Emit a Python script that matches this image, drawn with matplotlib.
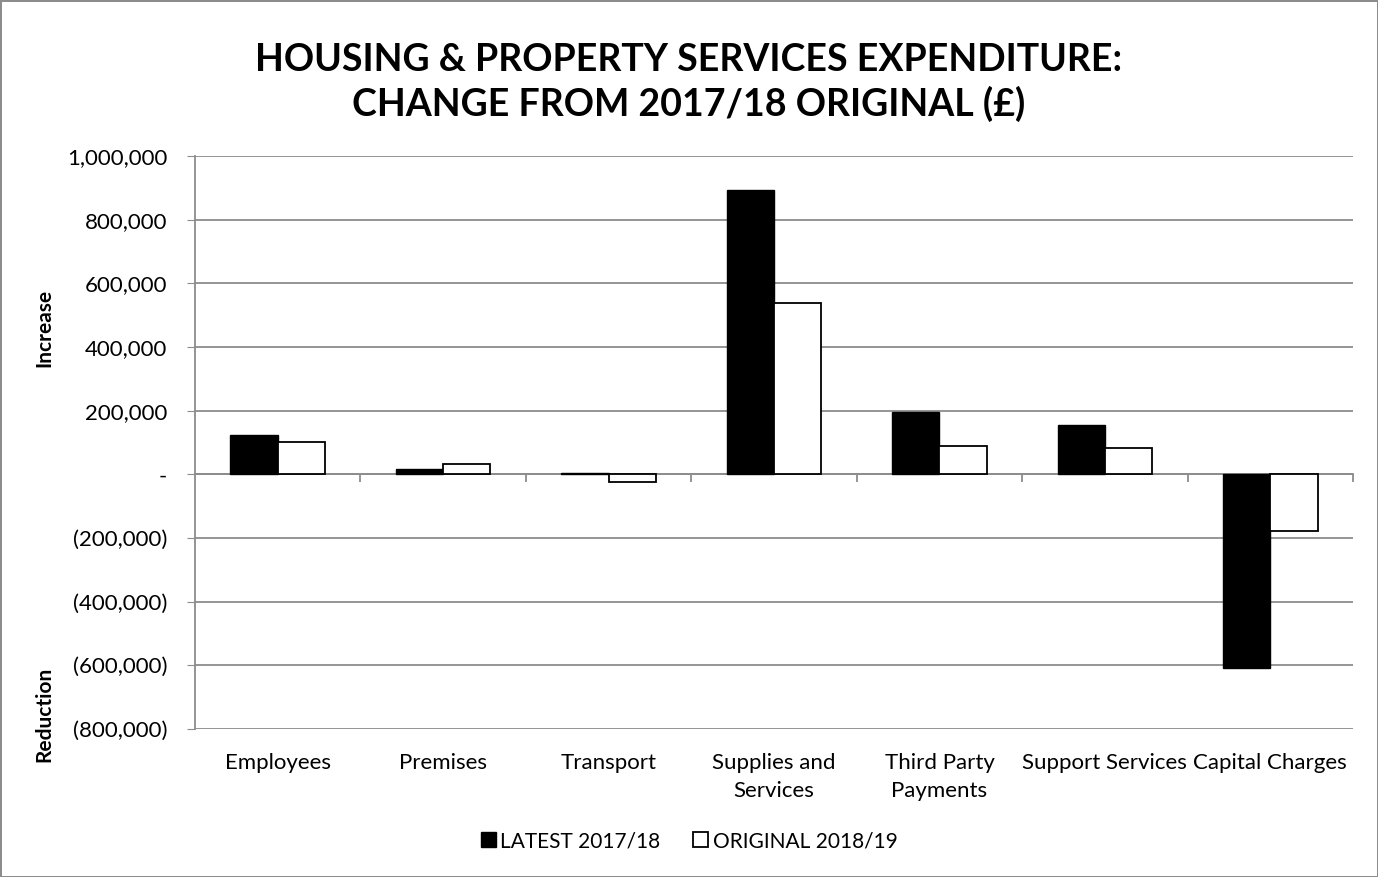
import numpy as np
import matplotlib
matplotlib.use("Agg")
import matplotlib.pyplot as plt
from matplotlib.ticker import FuncFormatter, FixedLocator

# -----------------------------
# Data
# -----------------------------
categories = ["Employees", "Premises", "Transport", "Supplies and\nServices",
              "Third Party\nPayments", "Support Services", "Capital Charges"]
latest_2017_18 = [123000, 18000, 4000, 893000, 195000, 154000, -610000]
original_2018_19 = [100000, 31000, -24000, 538000, 88000, 82000, -179000]
series_names = ["LATEST 2017/18", "ORIGINAL 2018/19"]

plt.rcParams["font.family"] = ["Lato", "DejaVu Sans"]
grid_col = "#8c8c8c"

fig = plt.figure(figsize=(13.78, 8.77), dpi=100)
fig.patch.set_edgecolor("#8c8c8c")
fig.patch.set_linewidth(2)
ax = fig.add_axes([0.1415, 0.1688, 0.8404, 0.6533])

x = np.arange(len(categories))
w = 0.286
ax.bar(x - w / 2, latest_2017_18, w, color="black", edgecolor="black",
       linewidth=1, label=series_names[0], zorder=3)
ax.bar(x + w / 2, original_2018_19, w, color="white", edgecolor="black",
       linewidth=1.3, label=series_names[1], zorder=3)

ymin, ymax = -800000, 1000000
ax.set_ylim(ymin, ymax)
ax.set_xlim(-0.5, len(categories) - 0.5)
ax.set_yticks(np.arange(ymin, ymax + 1, 200000))


def fmt(v, pos):
    if v == 0:
        return "-"
    if v < 0:
        return f"({abs(v):,.0f})"
    return f"{v:,.0f}"


ax.yaxis.set_major_formatter(FuncFormatter(fmt))
ax.yaxis.grid(True, color=grid_col, linewidth=1.3, zorder=0)
ax.tick_params(axis="y", labelsize=16, length=6, color=grid_col, pad=14)

for s in ["top", "right", "bottom"]:
    ax.spines[s].set_visible(False)
ax.spines["left"].set_color(grid_col)
ax.spines["left"].set_linewidth(1.3)

# category labels along the bottom
ax.set_xticks(x)
ax.set_xticklabels(categories, fontsize=16, linespacing=1.5)
ax.tick_params(axis="x", length=0, pad=17)

# zero axis with tick marks between categories
zero_frac = (0 - ymin) / (ymax - ymin)
sec = ax.secondary_xaxis(zero_frac)
sec.xaxis.set_major_locator(FixedLocator(np.arange(0.5, len(categories), 1.0)))
sec.tick_params(axis="x", length=6, color=grid_col, width=1.3, labelbottom=False)
sec.spines["bottom"].set_color(grid_col)
sec.spines["bottom"].set_linewidth(1.3)
sec.spines["bottom"].set_zorder(4)

fig.text(0.5, 0.906, "HOUSING & PROPERTY SERVICES EXPENDITURE:\nCHANGE FROM 2017/18 ORIGINAL (£)",
         ha="center", va="center", fontsize=27, fontweight="bold", linespacing=1.3)

fig.text(0.032, 0.626, "Increase", rotation=90, ha="center", va="center",
         fontsize=15, fontweight="bold")
fig.text(0.032, 0.185, "Reduction", rotation=90, ha="center", va="center",
         fontsize=15, fontweight="bold")

fig.legend(loc="center", bbox_to_anchor=(0.5, 0.041), ncol=2, frameon=False,
           fontsize=15, handlelength=0.72, handleheight=0.72, handletextpad=0.2,
           columnspacing=1.6)

fig.savefig("out.png", dpi=100)
